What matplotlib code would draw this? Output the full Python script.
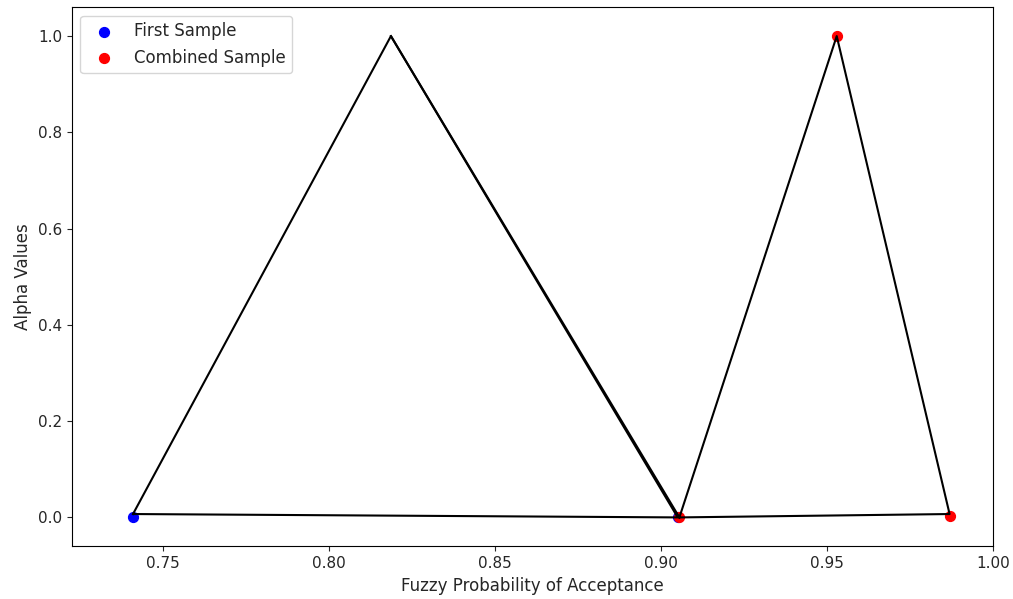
import matplotlib
matplotlib.use("Agg")
import matplotlib.pyplot as plt

# first sample triangle (fuzzy number)
first_x = [0.741, 0.8187, 0.9051]
first_y = [0.007, 1.0, 0.0]
# combined sample triangle
comb_x = [0.9056, 0.953, 0.987]
comb_y = [0.0, 1.0, 0.007]

# scatter points shown in the chart
first_pts_x = [0.741, 0.9051]
first_pts_y = [0.0, 0.0]
comb_pts_x = [0.9056, 0.953, 0.987]
comb_pts_y = [0.0, 1.0, 0.003]

txt = '#262626'
plt.rcParams['text.color'] = txt
plt.rcParams['axes.labelcolor'] = txt
plt.rcParams['xtick.color'] = txt
plt.rcParams['ytick.color'] = txt

fig, ax = plt.subplots(figsize=(10.13, 5.99), dpi=100)
fig.subplots_adjust(left=0.071, right=0.980, top=0.988, bottom=0.088)

ax.scatter(first_pts_x, first_pts_y, color='blue', s=50, label='First Sample', zorder=2)
ax.scatter(comb_pts_x, comb_pts_y, color='red', s=50, label='Combined Sample', zorder=2)

ax.plot(first_x + [first_x[0]], first_y + [first_y[0]], color='black', lw=1.5, zorder=3)
ax.plot([first_x[1], comb_x[0]], [first_y[1], comb_y[0]], color='black', lw=1.5, zorder=3)
ax.plot(comb_x + [comb_x[0]], comb_y + [comb_y[0]], color='black', lw=1.5, zorder=3)

ax.set_xlim(0.7226, 1.0)
ax.set_ylim(-0.06, 1.06)
ax.tick_params(labelsize=11)
ax.set_xlabel('Fuzzy Probability of Acceptance', fontsize=12)
ax.set_ylabel('Alpha Values', fontsize=12)
ax.legend(loc='upper left', fontsize=12)

plt.savefig('out.png')
